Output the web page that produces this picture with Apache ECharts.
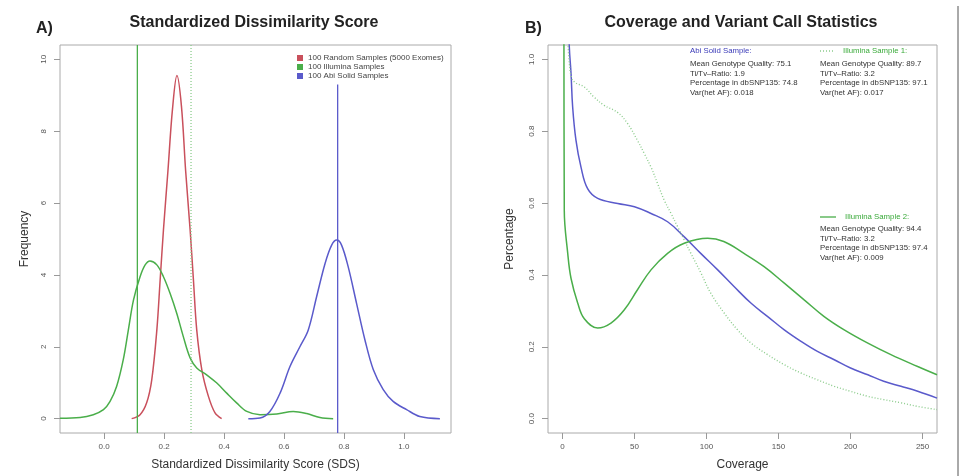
<!DOCTYPE html>
<html>
<head>
<meta charset="utf-8">
<title>Standardized Dissimilarity Score / Coverage</title>
<script src="https://cdn.jsdelivr.net/npm/echarts@6/dist/echarts.min.js"></script>
<style>
	html, body { margin: 0; padding: 0; background: #fff; }
	#main { width: 961px; height: 476px; }
</style>
</head>
<body>
<div id="main"></div>
<script>
// ---- panel A data (SDS density curves) ----
const sdsTicks = [0, 0.2, 0.4, 0.6, 0.8, 1.0];
const freqTicks = [0, 2, 4, 6, 8, 10];

const randomSamples = [
	[0.092, 0], [0.12, 0.11], [0.142, 0.44], [0.159, 1.08], [0.176, 2.47], [0.187, 3.86],
	[0.198, 5.25], [0.213, 6.9], [0.228, 8.6], [0.243, 9.55], [0.258, 8.7], [0.272, 6.9],
	[0.287, 5.25], [0.298, 3.86], [0.309, 2.47], [0.326, 1.36], [0.348, 0.62], [0.37, 0.16], [0.392, 0]
];
const illuminaSamples = [
	[-0.147, 0.01], [-0.08, 0.03], [-0.036, 0.11], [-0.002, 0.25], [0.02, 0.48], [0.042, 0.9],
	[0.064, 1.64], [0.081, 2.47], [0.098, 3.3], [0.12, 3.95], [0.137, 4.28], [0.153, 4.39],
	[0.176, 4.28], [0.198, 3.95], [0.22, 3.49], [0.242, 2.94], [0.264, 2.29], [0.287, 1.69],
	[0.309, 1.41], [0.342, 1.22], [0.376, 0.99], [0.409, 0.71], [0.442, 0.44], [0.476, 0.2],
	[0.52, 0.11], [0.576, 0.13], [0.631, 0.2], [0.676, 0.14], [0.72, 0.03], [0.764, 0.0]
];
const abiSamples = [
	[0.481, 0], [0.52, 0.02], [0.553, 0.2], [0.587, 0.71], [0.62, 1.45], [0.653, 2.0],
	[0.681, 2.47], [0.709, 3.4], [0.737, 4.32], [0.759, 4.83], [0.776, 4.97], [0.792, 4.83],
	[0.814, 4.23], [0.842, 3.21], [0.87, 2.19], [0.898, 1.36], [0.931, 0.81], [0.964, 0.48],
	[1.009, 0.25], [1.053, 0.06], [1.12, 0]
];
const illuminaSdsLine = [[0.111, -0.4], [0.111, 10.4]];
const illuminaSdsDotted = [[0.29, -0.4], [0.29, 10.4]];
const abiSdsLine = [[0.779, -0.4], [0.779, 9.3]];

// ---- panel B data (coverage curves) ----
const coverageTicks = [0, 50, 100, 150, 200, 250];
const pctTicks = [0, 0.2, 0.4, 0.6, 0.8, 1.0];

const abiCoverage = [
	[4.4, 1.12], [4.8, 1.034], [6, 0.96], [7.1, 0.868], [9.4, 0.775], [12.9, 0.70], [17.5, 0.64],
	[24.5, 0.613], [38.4, 0.599], [50, 0.59], [61.5, 0.571], [73, 0.548], [84.6, 0.506],
	[96, 0.46], [107.8, 0.414], [119.3, 0.367], [131, 0.321], [142.5, 0.284], [154, 0.247],
	[165.6, 0.215], [177, 0.187], [188.7, 0.164], [200, 0.141], [212, 0.122], [223, 0.104],
	[235, 0.09], [246.6, 0.076], [260, 0.057]
];
const illumina1Coverage = [
	[3.5, 1.07], [4.6, 1.0], [6, 0.955], [8.3, 0.937], [15.2, 0.923], [22, 0.895], [29, 0.872],
	[38.4, 0.852], [45.3, 0.821], [52, 0.775], [56.8, 0.738], [61.5, 0.70], [66, 0.655],
	[70.7, 0.608], [75.4, 0.571], [80, 0.534], [84.6, 0.497], [89.2, 0.46], [96.2, 0.405],
	[103, 0.349], [112.3, 0.294], [121.6, 0.247], [131, 0.21], [142.5, 0.178], [154, 0.15],
	[165.6, 0.127], [177, 0.108], [188.7, 0.09], [200, 0.076], [212, 0.062], [223, 0.053],
	[235, 0.044], [246.6, 0.034], [260, 0.025]
];
const illumina2Coverage = [
	[1.0, 1.3], [1.3, 0.58], [3.7, 0.46], [6, 0.39], [10.6, 0.322], [15.2, 0.278], [24.5, 0.252],
	[33.7, 0.266], [43, 0.303], [52, 0.358], [61.5, 0.414], [73, 0.46], [84.6, 0.488],
	[100.8, 0.502], [112, 0.493], [126, 0.46], [140, 0.423], [154, 0.377], [168, 0.33],
	[181.7, 0.284], [195.6, 0.247], [212, 0.21], [228, 0.178], [246.6, 0.145], [260, 0.122]
];

const abiStats = ["Mean Genotype Quality: 75.1", "Ti/Tv\u2013Ratio: 1.9", "Percentage in dbSNP135: 74.8", "Var(het AF): 0.018"];
const illumina1Stats = ["Mean Genotype Quality: 89.7", "Ti/Tv\u2013Ratio: 3.2", "Percentage in dbSNP135: 97.1", "Var(het AF): 0.017"];
const illumina2Stats = ["Mean Genotype Quality: 94.4", "Ti/Tv\u2013Ratio: 3.2", "Percentage in dbSNP135: 97.4", "Var(het AF): 0.009"];

const RED = "#c9505c";
const GREEN = "#4aae4a";
const LIGHT_GREEN = "#8ccc8c";
const BLUE = "#5a5acb";
const FONT = "Liberation Sans";

const chart = echarts.init(document.getElementById("main"), null, { renderer: "canvas" });

function statBlock(lines, x, y0) {
	return lines.map((t, i) => ({
		type: "text",
		left: x,
		top: y0 + i * 9.5,
		style: { text: t, fill: "#333", font: "7.8px " + FONT }
	}));
}

function valueAxis(gridIndex, min, max, ticks, fmt, extra, labelExtra) {
	return Object.assign({
		type: "value",
		gridIndex: gridIndex,
		min: min,
		max: max,
		splitLine: { show: false },
		axisLine: { show: false, onZero: false },
		axisTick: { show: true, inside: false, length: 6, customValues: ticks, lineStyle: { color: "#999" } },
		axisLabel: Object.assign({ customValues: ticks, formatter: fmt, fontSize: 8, color: "#555", fontFamily: FONT }, labelExtra),
		nameLocation: "middle",
		nameTextStyle: { fontSize: 12, color: "#333", fontFamily: FONT }
	}, extra);
}

const option = {
	animation: false,
	backgroundColor: "#fff",
	title: [
		{ text: "Standardized Dissimilarity Score", left: 249, top: 10, textAlign: "center",
			textStyle: { fontSize: 16, fontWeight: "bold", color: "#222", fontFamily: FONT } },
		{ text: "Coverage and Variant Call Statistics", left: 736, top: 10, textAlign: "center",
			textStyle: { fontSize: 16, fontWeight: "bold", color: "#222", fontFamily: FONT } }
	],
	legend: {
		left: 292,
		top: 49,
		orient: "vertical",
		itemWidth: 6,
		itemHeight: 6,
		itemGap: 1,
		icon: "rect",
		textStyle: { fontSize: 8, color: "#444", fontFamily: FONT },
		data: ["100 Random Samples (5000 Exomes)", "100 Illumina Samples", "100 Abi Solid Samples"]
	},
	grid: [
		{ left: 60, top: 45, width: 391, height: 389, show: true, borderColor: "#aaa", borderWidth: 1, backgroundColor: "transparent" },
		{ left: 548, top: 45, width: 389, height: 389, show: true, borderColor: "#aaa", borderWidth: 1, backgroundColor: "transparent" }
	],
	xAxis: [
		valueAxis(0, -0.147, 1.157, sdsTicks, v => v.toFixed(1),
			{ name: "Standardized Dissimilarity Score (SDS)", nameGap: 26 }, { margin: 10 }),
		valueAxis(1, -10, 260, coverageTicks, v => String(v),
			{ name: "Coverage", nameGap: 26 }, { margin: 10 })
	],
	yAxis: [
		valueAxis(0, -0.4, 10.4, freqTicks, v => String(v),
			{ name: "Frequency", nameGap: 29, nameRotate: 90 }, { rotate: 90, margin: 12 }),
		valueAxis(1, -0.04, 1.04, pctTicks, v => v.toFixed(1),
			{ name: "Percentage", nameGap: 32, nameRotate: 90 }, { rotate: 90, margin: 12 })
	],
	series: [
		{ name: "100 Random Samples (5000 Exomes)", type: "line", data: randomSamples, smooth: 0.35, showSymbol: false,
			itemStyle: { color: RED }, lineStyle: { color: RED, width: 1.5 } },
		{ name: "100 Illumina Samples", type: "line", data: illuminaSamples, smooth: 0.35, showSymbol: false,
			itemStyle: { color: GREEN }, lineStyle: { color: GREEN, width: 1.5 } },
		{ name: "100 Abi Solid Samples", type: "line", data: abiSamples, smooth: 0.35, showSymbol: false,
			itemStyle: { color: BLUE }, lineStyle: { color: BLUE, width: 1.5 } },
		{ name: "Illumina SDS", type: "line", data: illuminaSdsLine, showSymbol: false,
			lineStyle: { color: GREEN, width: 1.3 } },
		{ name: "Illumina SDS (dotted)", type: "line", data: illuminaSdsDotted, showSymbol: false,
			lineStyle: { color: LIGHT_GREEN, width: 1.3, type: [1, 2] } },
		{ name: "Abi SDS", type: "line", data: abiSdsLine, showSymbol: false,
			lineStyle: { color: BLUE, width: 1.3 } },

		{ name: "Abi Solid Sample", type: "line", xAxisIndex: 1, yAxisIndex: 1, data: abiCoverage,
			smooth: 0.4, showSymbol: false, lineStyle: { color: BLUE, width: 1.5 } },
		{ name: "Illumina Sample 1", type: "line", xAxisIndex: 1, yAxisIndex: 1, data: illumina1Coverage,
			smooth: 0.4, showSymbol: false, lineStyle: { color: LIGHT_GREEN, width: 1.4, type: [1, 2] } },
		{ name: "Illumina Sample 2", type: "line", xAxisIndex: 1, yAxisIndex: 1, data: illumina2Coverage,
			smooth: 0.4, showSymbol: false, lineStyle: { color: GREEN, width: 1.5 } }
	],
	graphic: [
		{ type: "text", left: 36, top: 21, style: { text: "A)", fill: "#222", font: "bold 16px " + FONT } },
		{ type: "text", left: 525, top: 21, style: { text: "B)", fill: "#222", font: "bold 16px " + FONT } },

		{ type: "text", left: 690, top: 47, style: { text: "Abi Solid Sample:", fill: "#3a3ab8", font: "7.8px " + FONT } },
		...statBlock(abiStats, 690, 60),

		{ type: "line", shape: { x1: 820, y1: 51, x2: 834, y2: 51 }, style: { stroke: LIGHT_GREEN, lineWidth: 1.4, lineDash: [1, 2] } },
		{ type: "text", left: 843, top: 47, style: { text: "Illumina Sample 1:", fill: "#3aaa3a", font: "7.8px " + FONT } },
		...statBlock(illumina1Stats, 820, 60),

		{ type: "line", shape: { x1: 820, y1: 217, x2: 836, y2: 217 }, style: { stroke: GREEN, lineWidth: 1.3 } },
		{ type: "text", left: 845, top: 213, style: { text: "Illumina Sample 2:", fill: "#3aaa3a", font: "7.8px " + FONT } },
		...statBlock(illumina2Stats, 820, 225),

		{ type: "line", shape: { x1: 958, y1: 6, x2: 958, y2: 476 }, style: { stroke: "#555", lineWidth: 1 } }
	]
};

chart.setOption(option);
</script>
</body>
</html>
